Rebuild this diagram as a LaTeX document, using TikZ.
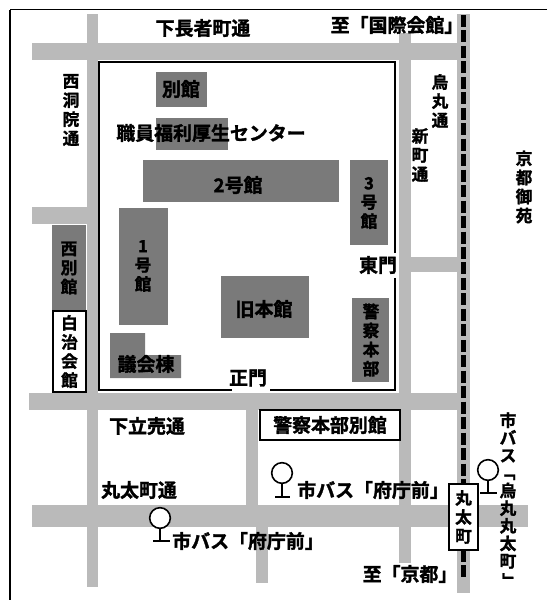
\documentclass[tikz,border=0pt]{standalone}
\usepackage{fontspec}
\setmainfont{Noto Sans CJK JP}[BoldFont={* Bold},BoldFeatures={FakeBold=1.6}]
\usepackage{graphicx}
\newcommand{\VL}{\rotatebox[origin=c]{-90}{「}}
\newcommand{\VR}{\rotatebox[origin=c]{-90}{」}}
\tikzset{
  road/.style={fill=black!27,draw=none},
  bld/.style={fill=black!52,draw=none},
  lab/.style={font=\bfseries\fontsize{14.2}{16}\selectfont,inner sep=0pt,text=black},
  vlab/.style={lab,align=center,font=\bfseries\fontsize{12.5}{14.3}\selectfont},
  vtight/.style={lab,align=center,font=\bfseries\fontsize{12.5}{13.2}\selectfont},
  wbox/.style={draw=black,line width=1.4pt,fill=white,inner sep=0pt},
  wall/.style={line width=2.2pt,black},
  stopc/.style={draw=black,line width=1.2pt,fill=white,circle,minimum size=15.5pt,inner sep=0pt},
  stem/.style={line width=1.6pt,black}
}
\begin{document}
\begin{tikzpicture}[x=0.75pt,y=-0.75pt]
\useasboundingbox (0,0) rectangle (547,600);
% frame
\draw[line width=1.1pt] (547,9.5) -- (9.5,9.5);
\draw[line width=1.5pt] (9.5,9.5) -- (9.5,600);
% roads
\fill[road] (32,43) rectangle (458,60);
\fill[road] (87,14) rectangle (98,587);
\fill[road] (32,207) rectangle (88,224);
\fill[road] (29,393) rectangle (460,410);
\fill[road] (32,505) rectangle (528,527);
\fill[road] (246,410) rectangle (258,505);
\fill[road] (256,527) rectangle (268,583);
\fill[road] (399,33) rectangle (411,563);
\fill[road] (410,257) rectangle (458,272);
\fill[road] (457,14) rectangle (470,593);
% rail line
\draw[line width=3.8pt,dash pattern=on 9pt off 2.6pt] (463.5,15) -- (463.5,484);
\draw[line width=3.8pt,dash pattern=on 9pt off 2.6pt] (463.5,550) -- (463.5,580);
% compound walls
\coordinate (wallE) at (395,253);
\coordinate (wallNE) at (395,62);
\coordinate (wallNW) at (99,62);
\coordinate (wallSW) at (99,390);
\coordinate (wallS) at (232,390);
\coordinate (wallS2) at (270,390);
\coordinate (wallSE) at (395,390);
\coordinate (wallE2) at (395,278);
\draw[wall,line join=miter] (wallE) -- (wallNE) -- (wallNW) -- (wallSW) -- (wallS);
\draw[wall,line join=miter] (wallS2) -- (wallSE) -- (wallE2);
% buildings
\fill[bld] (156,72) rectangle (207,107);
\fill[bld] (156,118) rectangle (228,150);
\fill[bld] (143,160) rectangle (339,202);
\fill[bld] (350,160) rectangle (388,245);
\fill[bld] (119,208) rectangle (168,325);
\fill[bld] (221,276) rectangle (309,338);
\fill[bld] (352,298) rectangle (389,382);
\fill[bld] (110,333) -- (145,333) -- (145,355) -- (181,355) -- (181,378) -- (110,378) -- cycle;
\fill[bld] (52,225) rectangle (86,311);
% building labels
\node[lab] (top) at (181,89) {別館};
\node[lab] (ctr) at (211,133) {職員福利厚生センター};
\node[lab] (b2) at (238,185) {2号館};
\node[vlab] (b3) at (369,203) {3\\号\\館};
\node[vlab] (b1) at (143,266) {1\\号\\館};
\node[lab] (hon) at (264,309) {旧本館};
\node[vlab] (pol) at (371,340) {警\\察\\本\\部};
\node[lab] (gik) at (146,364) {議会棟};
\node[vlab] (nishi) at (69,268) {西\\別\\館};
% white boxes
\node[wbox,minimum height=81*0.75pt,minimum width=33*0.75pt,vlab] (jichi) at (69.5,351.5) {白\\治\\会\\館};
\node[wbox,minimum width=140*0.75pt,minimum height=30*0.75pt,lab] (bekkan) at (330,425) {警察本部別館};
\node[wbox,minimum width=29*0.75pt,minimum height=66*0.75pt,vlab] (maruta) at (463.5,517) {丸\\太\\町};
% road labels
\node[lab] (n1) at (203,28) {下長者町通};
\node[lab] (n2) at (397,25) {至「国際会館」};
\node[vlab] (n3) at (71,110) {西\\洞\\院\\通};
\node[vlab] (n4) at (440,101) {烏\\丸\\通};
\node[vlab] (n5) at (420,155) {新\\町\\通};
\node[vlab] (n6) at (524,187) {京\\都\\御\\苑};
\node[lab] (n7) at (378,265) {東門};
\node[lab] (n8) at (248,378) {正門};
\node[lab] (n9) at (147,426) {下立売通};
\node[lab] (n10) at (139,490) {丸太町通};
\node[lab] (n11) at (410,574) {至「京都」};
% bus stops
\node[stopc] (s1) at (160,518) {};
\coordinate (s1b) at (160,541);
\draw[stem] (s1) -- (s1b);
\draw[stem] (153,541) -- (170,541);
\node[lab,anchor=west] (t1) at (172,541) {市バス「府庁前」};
\node[stopc] (s2) at (282,473) {};
\coordinate (s2b) at (282,497);
\draw[stem] (s2) -- (s2b);
\draw[stem] (275,497) -- (290,497);
\node[lab,anchor=west] (t2) at (297,490) {市バス「府庁前」};
\node[stopc] (s3) at (488,470) {};
\coordinate (s3b) at (488,493);
\draw[stem] (s3) -- (s3b);
\draw[stem] (480,493) -- (497,493);
\node[vtight,anchor=north] (t3) at (508,412) {市\\バ\\ス\\\VL\\烏\\丸\\丸\\太\\町\\\VR};
\end{tikzpicture}
\end{document}
